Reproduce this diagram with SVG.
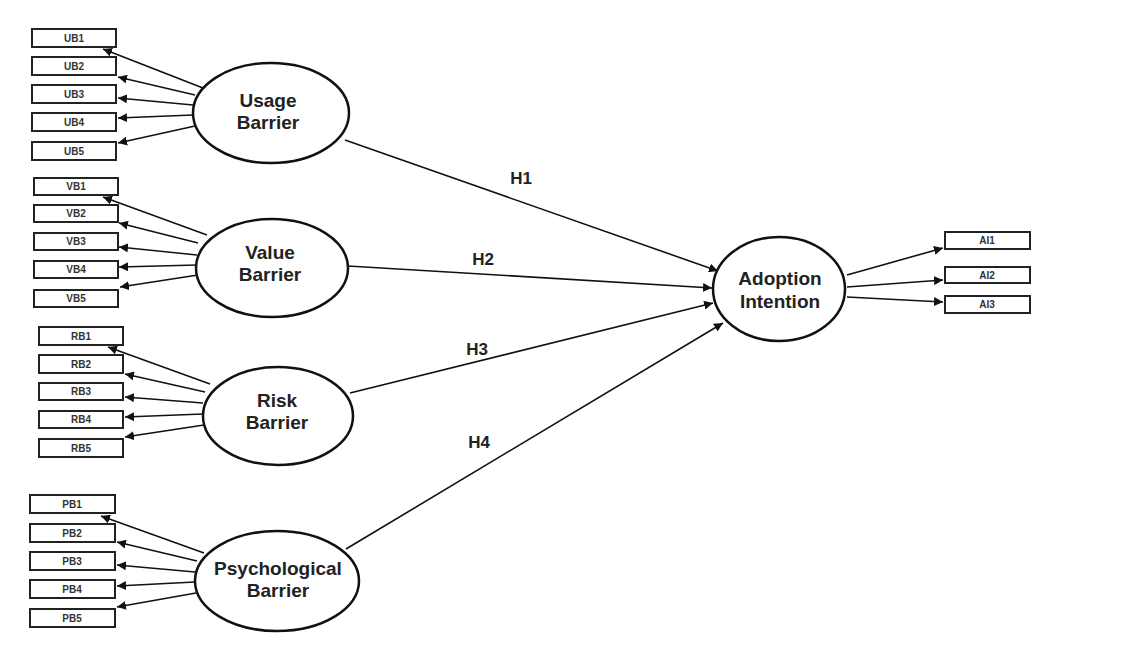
<svg xmlns="http://www.w3.org/2000/svg" width="1123" height="650" viewBox="0 0 1123 650">
  <defs>
    <marker id="arrow" viewBox="0 0 10 10" refX="10" refY="5" markerWidth="9" markerHeight="9" markerUnits="userSpaceOnUse" orient="auto">
      <path d="M0,0 L10,5 L0,10 z" fill="#111"/>
    </marker>
    <style>
      .item { fill: #fff; stroke: #222; stroke-width: 2; }
      .construct { fill: #fff; stroke: #111; stroke-width: 2.5; }
      .itxt { font-family: "Liberation Sans", Arial, sans-serif; font-size: 10px; font-weight: bold; fill: #333; text-anchor: middle; }
      .ctxt { font-family: "Liberation Sans", Arial, sans-serif; font-size: 19px; font-weight: bold; fill: #222; text-anchor: middle; }
      .htxt { font-family: "Liberation Sans", Arial, sans-serif; font-size: 17px; font-weight: bold; fill: #222; text-anchor: middle; }
      .link { stroke: #111; stroke-width: 1.6; fill: none; marker-end: url(#arrow); }
    </style>
  </defs>
  <rect width="1123" height="650" fill="#fff"/>

  <!-- connectors: loadings and structural paths -->
  <g id="connectors">
    <!-- Usage Barrier loadings -->
    <line class="link" x1="203" y1="88" x2="103" y2="49"/>
    <line class="link" x1="195" y1="95" x2="118" y2="77"/>
    <line class="link" x1="193" y1="105" x2="118" y2="98"/>
    <line class="link" x1="193" y1="115" x2="118" y2="118"/>
    <line class="link" x1="195" y1="126" x2="118" y2="143"/>
    <!-- Value Barrier loadings -->
    <line class="link" x1="207" y1="235" x2="103" y2="197"/>
    <line class="link" x1="198" y1="243" x2="119" y2="223"/>
    <line class="link" x1="197" y1="255" x2="119" y2="247"/>
    <line class="link" x1="197" y1="265" x2="119" y2="267"/>
    <line class="link" x1="198" y1="275" x2="120" y2="287"/>
    <!-- Risk Barrier loadings -->
    <line class="link" x1="210" y1="384" x2="108" y2="347"/>
    <line class="link" x1="205" y1="392" x2="125" y2="374"/>
    <line class="link" x1="203" y1="403" x2="125" y2="397"/>
    <line class="link" x1="203" y1="414" x2="125" y2="417"/>
    <line class="link" x1="204" y1="425" x2="125" y2="437"/>
    <!-- Psychological Barrier loadings -->
    <line class="link" x1="204" y1="553" x2="101" y2="516"/>
    <line class="link" x1="197" y1="561" x2="117" y2="542"/>
    <line class="link" x1="195" y1="572" x2="117" y2="565"/>
    <line class="link" x1="195" y1="582" x2="117" y2="586"/>
    <line class="link" x1="196" y1="593" x2="117" y2="607"/>
    <!-- Structural paths -->
    <line class="link" x1="345" y1="140" x2="718" y2="271"/>
    <line class="link" x1="348" y1="266" x2="712" y2="288"/>
    <line class="link" x1="350" y1="393" x2="713" y2="303"/>
    <line class="link" x1="346" y1="549" x2="723" y2="323"/>
    <!-- Adoption Intention loadings -->
    <line class="link" x1="847" y1="275" x2="943" y2="248"/>
    <line class="link" x1="847" y1="287" x2="943" y2="280"/>
    <line class="link" x1="847" y1="297" x2="943" y2="302"/>
  </g>

  <!-- path labels -->
  <g id="path-labels">
    <text class="htxt" x="521" y="184">H1</text>
    <text class="htxt" x="483" y="265">H2</text>
    <text class="htxt" x="477" y="355">H3</text>
    <text class="htxt" x="479" y="448">H4</text>
  </g>

  <!-- Usage Barrier -->
  <g id="usage-barrier">
    <ellipse class="construct" cx="271" cy="113" rx="78" ry="50"/>
    <text class="ctxt" x="268" y="107">Usage<tspan x="268" dy="22">Barrier</tspan></text>
  </g>
  <g id="ub-items">
    <rect class="item" x="32" y="29" width="84" height="18"/><text class="itxt" x="74" y="42">UB1</text>
    <rect class="item" x="32" y="57" width="84" height="18"/><text class="itxt" x="74" y="70">UB2</text>
    <rect class="item" x="32" y="85" width="84" height="18"/><text class="itxt" x="74" y="98">UB3</text>
    <rect class="item" x="32" y="113" width="84" height="18"/><text class="itxt" x="74" y="126">UB4</text>
    <rect class="item" x="32" y="142" width="84" height="18"/><text class="itxt" x="74" y="155">UB5</text>
  </g>

  <!-- Value Barrier -->
  <g id="value-barrier">
    <ellipse class="construct" cx="272" cy="268" rx="76" ry="49"/>
    <text class="ctxt" x="270" y="259">Value<tspan x="270" dy="22">Barrier</tspan></text>
  </g>
  <g id="vb-items">
    <rect class="item" x="34" y="178" width="84" height="17"/><text class="itxt" x="76" y="190">VB1</text>
    <rect class="item" x="34" y="205" width="84" height="17"/><text class="itxt" x="76" y="217">VB2</text>
    <rect class="item" x="34" y="233" width="84" height="17"/><text class="itxt" x="76" y="245">VB3</text>
    <rect class="item" x="34" y="261" width="84" height="17"/><text class="itxt" x="76" y="273">VB4</text>
    <rect class="item" x="34" y="290" width="84" height="17"/><text class="itxt" x="76" y="302">VB5</text>
  </g>

  <!-- Risk Barrier -->
  <g id="risk-barrier">
    <ellipse class="construct" cx="278" cy="416" rx="75" ry="49"/>
    <text class="ctxt" x="277" y="407">Risk<tspan x="277" dy="22">Barrier</tspan></text>
  </g>
  <g id="rb-items">
    <rect class="item" x="39" y="327" width="84" height="18"/><text class="itxt" x="81" y="340">RB1</text>
    <rect class="item" x="39" y="355" width="84" height="18"/><text class="itxt" x="81" y="368">RB2</text>
    <rect class="item" x="39" y="383" width="84" height="17"/><text class="itxt" x="81" y="395">RB3</text>
    <rect class="item" x="39" y="411" width="84" height="17"/><text class="itxt" x="81" y="423">RB4</text>
    <rect class="item" x="39" y="439" width="84" height="18"/><text class="itxt" x="81" y="452">RB5</text>
  </g>

  <!-- Psychological Barrier -->
  <g id="psychological-barrier">
    <ellipse class="construct" cx="277" cy="581" rx="82" ry="50"/>
    <text class="ctxt" x="278" y="575">Psychological<tspan x="278" dy="22">Barrier</tspan></text>
  </g>
  <g id="pb-items">
    <rect class="item" x="30" y="495" width="85" height="18"/><text class="itxt" x="72" y="508">PB1</text>
    <rect class="item" x="30" y="524" width="85" height="18"/><text class="itxt" x="72" y="537">PB2</text>
    <rect class="item" x="30" y="552" width="85" height="18"/><text class="itxt" x="72" y="565">PB3</text>
    <rect class="item" x="30" y="580" width="85" height="18"/><text class="itxt" x="72" y="593">PB4</text>
    <rect class="item" x="30" y="609" width="85" height="18"/><text class="itxt" x="72" y="622">PB5</text>
  </g>

  <!-- Adoption Intention -->
  <g id="adoption-intention">
    <ellipse class="construct" cx="779" cy="289" rx="66" ry="52"/>
    <text class="ctxt" x="780" y="285">Adoption<tspan x="780" dy="23">Intention</tspan></text>
  </g>
  <g id="ai-items">
    <rect class="item" x="945" y="232" width="85" height="17"/><text class="itxt" x="987" y="244">AI1</text>
    <rect class="item" x="945" y="267" width="85" height="16"/><text class="itxt" x="987" y="279">AI2</text>
    <rect class="item" x="945" y="296" width="85" height="17"/><text class="itxt" x="987" y="308">AI3</text>
  </g>
</svg>
